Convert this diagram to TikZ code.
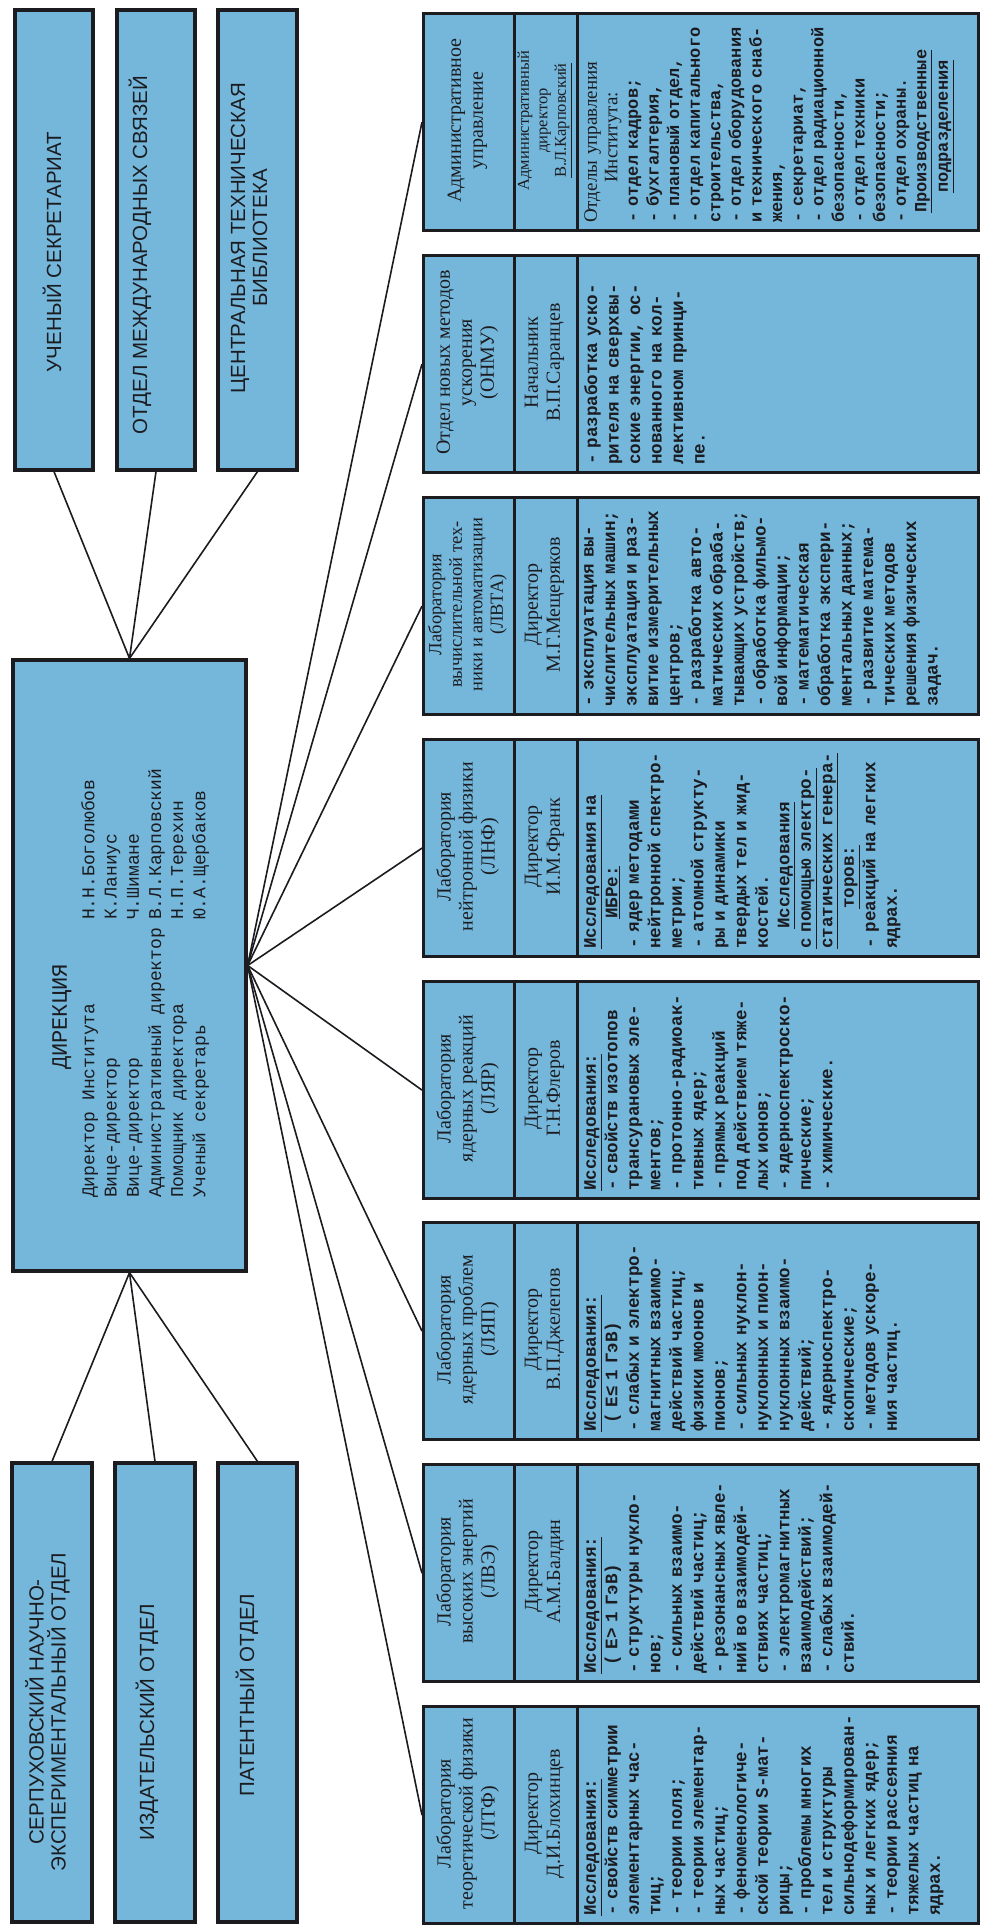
\documentclass[tikz,border=0pt]{standalone}
\usepackage{fontspec}
\setmainfont{Liberation Serif}
\newfontfamily\monof{Liberation Mono}
\newfontfamily\sansf{Liberation Sans}
\definecolor{boxblue}{RGB}{116,183,219}
\definecolor{ink}{RGB}{28,28,32}
\tikzset{
  sect/.style={draw=ink, fill=boxblue, line width=3.2pt, rectangle, inner sep=0pt},
  conn/.style={draw=ink, line width=1.6pt},
  titletxt/.style={rotate=90, align=center, inner sep=0pt, text=ink, font=\rmfamily\fontsize{20}{22}\selectfont},
  restxt/.style={rotate=90, anchor=north west, inner sep=0pt, text width=226pt, align=left, text=ink, font=\monof\bfseries\fontsize{17.6}{21.5}\selectfont},
  captxt/.style={rotate=90, align=center, inner sep=0pt, text=ink, font=\sansf\fontsize{20.5}{22}\selectfont},
}
% #1 name, #2 top, #3 title font, #4 title, #5 director font, #6 director, #7 research
\newcommand\labbox[7]{%
  \pgfmathsetmacro\labmid{#2+108.5}%
  \pgfmathsetmacro\labbot{#2+211}%
  \node[sect, minimum width=91pt, minimum height=217pt, anchor=north west] (#1-t) at (422,#2) {};
  \node[sect, minimum width=63pt, minimum height=217pt, anchor=north west] (#1-d) at (513,#2) {};
  \node[sect, minimum width=401pt, minimum height=217pt, anchor=north west] (#1-r) at (576,#2) {};
  \node[titletxt, #3] (#1-tt) at (467.5,\labmid) {#4};
  \node[titletxt, #5] (#1-dt) at (544.5,\labmid) {#6};
  \node[restxt] (#1-rt) at (584,\labbot) {#7};
}
\begin{document}
\begin{tikzpicture}[x=1pt,y=-1pt]
\useasboundingbox (0,0) rectangle (980,1925);
\fill[white] (0,0) rectangle (980,1925);

% upper units
\node[sect, minimum width=78pt, minimum height=460pt] (us) at (54,240) {};
\node[sect, minimum width=78pt, minimum height=460pt] (intl) at (156,240) {};
\node[sect, minimum width=79pt, minimum height=460pt] (lib) at (257.5,240) {};
\node[captxt] (us-t) at (52,252) {УЧЕНЫЙ СЕКРЕТАРИАТ};
\node[captxt] (intl-t) at (140,255) {ОТДЕЛ МЕЖДУНАРОДНЫХ СВЯЗЕЙ};
\node[captxt] (lib-t) at (249,238) {ЦЕНТРАЛЬНАЯ ТЕХНИЧЕСКАЯ\\БИБЛИОТЕКА};

% directorate
\node[sect, minimum width=233pt, minimum height=611pt] (dir) at (129.5,965.5) {};
\node[rotate=90, inner sep=0pt, text=ink, font=\monof\fontsize{22}{24}\selectfont] (dir-title) at (62,1017) {ДИРЕКЦИЯ};
\node[rotate=90, anchor=north west, inner sep=0pt, align=left, text=ink, font=\monof\fontsize{18}{22.2}\selectfont] (dir-list) at (81,1198) {%
\makebox[278pt][l]{Директор Института}Н.Н.Боголюбов\\
\makebox[278pt][l]{Вице-директор}К.Ланиус\\
\makebox[278pt][l]{Вице-директор}Ч.Шимане\\
\makebox[278pt][l]{Административный директор}В.Л.Карповский\\
\makebox[278pt][l]{Помощник директора}Н.П.Терехин\\
\makebox[278pt][l]{Ученый секретарь}Ю.А.Щербаков};

% lower units
\node[sect, minimum width=80pt, minimum height=459pt] (serp) at (52,1692.5) {};
\node[sect, minimum width=80pt, minimum height=459pt] (izd) at (155,1692.5) {};
\node[sect, minimum width=79pt, minimum height=459pt] (pat) at (257.5,1692.5) {};
\node[captxt] (serp-t) at (47.5,1712) {СЕРПУХОВСКИЙ НАУЧНО-\\ЭКСПЕРИМЕНТАЛЬНЫЙ ОТДЕЛ};
\node[captxt] (izd-t) at (147,1722) {ИЗДАТЕЛЬСКИЙ ОТДЕЛ};
\node[captxt] (pat-t) at (247,1695) {ПАТЕНТНЫЙ ОТДЕЛ};

% laboratories and departments
\labbox{adm}{12}{}{Административное\\управление}{font=\rmfamily\fontsize{16.5}{18.5}\selectfont}{Административный\\директор\\\underline{В.Л.Карповский}}{\fontsize{17}{20.6}\selectfont
{\rmfamily\mdseries\fontsize{19}{20.6}\selectfont Отделы управления}\\
\hspace*{40pt}{\rmfamily\mdseries\fontsize{19}{20.6}\selectfont Института:}\\
- отдел кадров;\\
- бухгалтерия,\\
- плановый отдел,\\
- отдел капитального\\
строительства,\\
- отдел оборудования\\
и технического снаб-\\
жения,\\
- секретариат,\\
- отдел радиационной\\
безопасности,\\
- отдел техники\\
безопасности;\\
- отдел охраны.\\
\hspace*{10pt}\underline{Производственные}\\
\hspace*{30pt}\underline{подразделения}}

\labbox{onmu}{254}{}{Отдел новых методов\\ускорения\\(ОНМУ)}{}{Начальник\\В.П.Саранцев}{%
- разработка уско-\\
рителя на сверхвы-\\
сокие энергии, ос-\\
нованного на кол-\\
лективном принци-\\
пе.}

\labbox{lvta}{496}{font=\rmfamily\fontsize{18.5}{20.5}\selectfont}{Лаборатория\\вычислительной тех-\\ники и автоматизации\\(ЛВТА)}{}{Директор\\М.Г.Мещеряков}{%
- эксплуатация вы-\\
числительных машин;\\
эксплуатация и раз-\\
витие измерительных\\
центров;\\
- разработка авто-\\
матических обраба-\\
тывающих устройств;\\
- обработка фильмо-\\
вой информации;\\
- математическая\\
обработка экспери-\\
ментальных данных;\\
- развитие матема-\\
тических методов\\
решения физических\\
задач.}

\labbox{lnf}{738}{}{Лаборатория\\нейтронной физики\\(ЛНФ)}{}{Директор\\И.М.Франк}{%
\underline{Исследования на}\\
\hspace*{30pt}\underline{ИБРе:}\\
- ядер методами\\
нейтронной спектро-\\
метрии;\\
- атомной структу-\\
ры и динамики\\
твердых тел и жид-\\
костей.\\
\hspace*{20pt}\underline{Исследования}\\
\underline{с помощью электро-}\\
\underline{статических генера-}\\
\hspace*{40pt}\underline{торов:}\\
- реакций на легких\\
ядрах.}

\labbox{lyar}{980}{}{Лаборатория\\ядерных реакций\\(ЛЯР)}{}{Директор\\Г.Н.Флеров}{%
\underline{Исследования:}\\
- свойств изотопов\\
трансурановых эле-\\
ментов;\\
- протонно-радиоак-\\
тивных ядер;\\
- прямых реакций\\
под действием тяже-\\
лых ионов;\\
- ядерноспектроско-\\
пические;\\
- химические.}

\labbox{lyap}{1221}{}{Лаборатория\\ядерных проблем\\(ЛЯП)}{}{Директор\\В.П.Джелепов}{%
\underline{Исследования:}\\
\hspace*{8pt}( E≤ 1 ГэВ)\\
- слабых и электро-\\
магнитных взаимо-\\
действий частиц;\\
физики мюонов и\\
пионов;\\
- сильных нуклон-\\
нуклонных и пион-\\
нуклонных взаимо-\\
действий;\\
- ядерноспектро-\\
скопические;\\
- методов ускоре-\\
ния частиц.}

\labbox{lve}{1463}{}{Лаборатория\\высоких энергий\\(ЛВЭ)}{}{Директор\\А.М.Балдин}{%
\underline{Исследования:}\\
\hspace*{8pt}( E> 1 ГэВ)\\
- структуры нукло-\\
нов;\\
- сильных взаимо-\\
действий частиц;\\
- резонансных явле-\\
ний во взаимодей-\\
ствиях частиц;\\
- электромагнитных\\
взаимодействий;\\
- слабых взаимодей-\\
ствий.}

\labbox{ltf}{1705}{}{Лаборатория\\теоретической физики\\(ЛТФ)}{}{Директор\\Д.И.Блохинцев}{%
\underline{Исследования:}\\
- свойств симметрии\\
элементарных час-\\
тиц;\\
- теории поля;\\
- теории элементар-\\
ных частиц;\\
- феноменологиче-\\
ской теории S-мат-\\
рицы;\\
- проблемы многих\\
тел и структуры\\
сильнодеформирован-\\
ных и легких ядер;\\
- теории рассеяния\\
тяжелых частиц на\\
ядрах.}

% connectors
\foreach \b in {us,intl,lib} \draw[conn] (\b.south) -- (dir.north);
\foreach \b in {serp,izd,pat} \draw[conn] (\b.north) -- (dir.south);
\foreach \b in {adm,onmu,lvta,lnf,lyar,lyap,lve,ltf} \draw[conn] (dir.east) -- (\b-t.west);
\end{tikzpicture}
\end{document}
